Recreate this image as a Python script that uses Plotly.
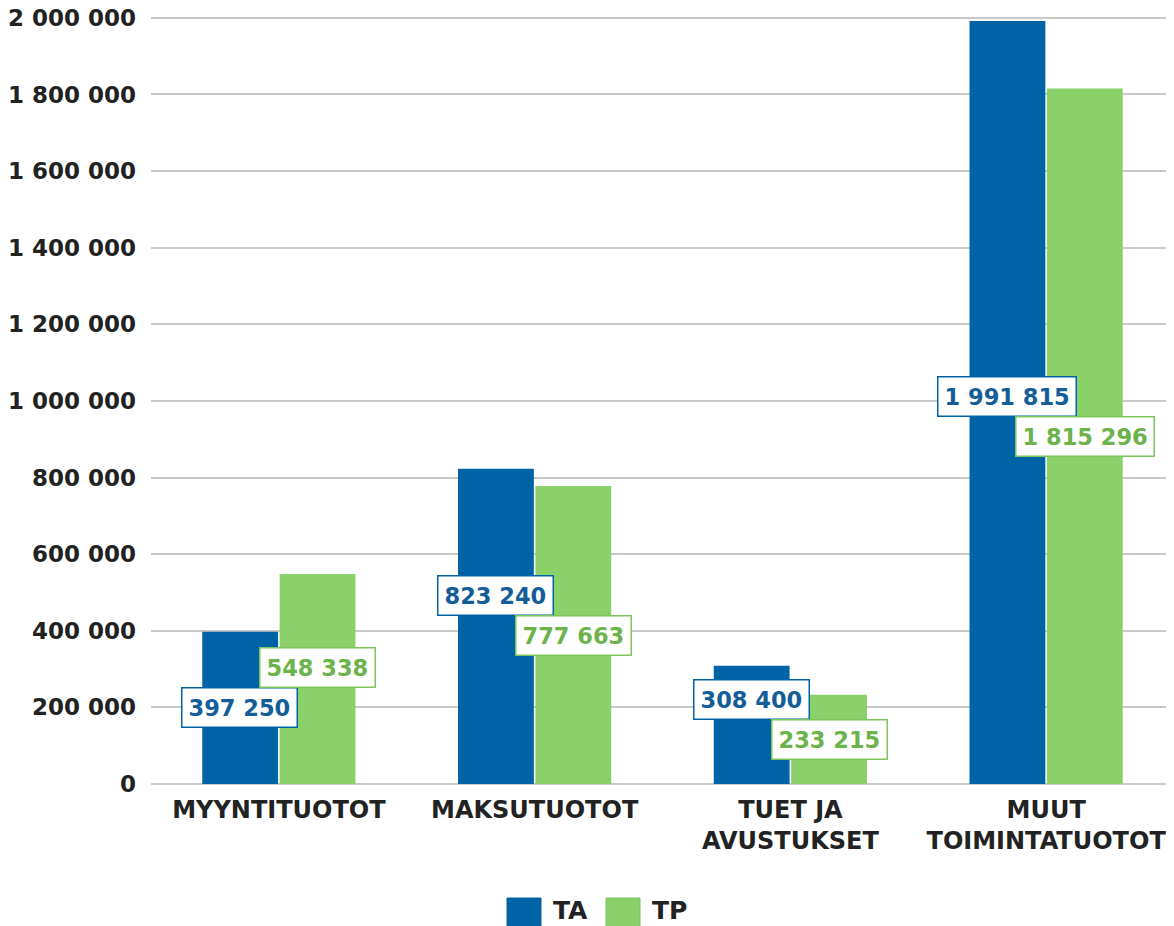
import plotly.graph_objects as go

categories = ["MYYNTITUOTOT", "MAKSUTUOTOT", "TUET JA<br>AVUSTUKSET", "MUUT<br>TOIMINTATUOTOT"]
ta_values = [397250, 823240, 308400, 1991815]
tp_values = [548338, 777663, 233215, 1815296]
tick_vals = [0, 200000, 400000, 600000, 800000, 1000000, 1200000, 1400000, 1600000, 1800000, 2000000]

BLUE = "#0063a6"
GREEN = "#8ad16a"
BLUE_TXT = "#135d98"
GREEN_TXT = "#6bb34a"
FONT = "DejaVu Sans"

# page has an 8px body margin; figure is sized to fit the window
OFF = 8
W, H = 1174 - OFF, 926 - OFF
ML, MR, MB = 151 - OFF, 0, 142
y_grid_top = 2000000
y_top = 2010000  # small headroom so the top gridline stays visible
px_per_unit = 766 / y_grid_top
plot_h = px_per_unit * y_top
MT = H - MB - plot_h
box_h = 40  # label box height in px


def fmt(v):
    return f"{v:,}".replace(",", " ")


fig = go.Figure()
fig.add_trace(go.Bar(name="TA", x=categories, y=ta_values, marker=dict(color=BLUE, line=dict(width=0)),
                     showlegend=False, hoverinfo="skip"))
fig.add_trace(go.Bar(name="TP", x=categories, y=tp_values, marker=dict(color=GREEN, line=dict(width=0)),
                     showlegend=False, hoverinfo="skip"))

bar_offset = 39
for cat, a, b in zip(categories, ta_values, tp_values):
    ya, yb = a / 2, b / 2
    diff_px = abs(ya - yb) * px_per_unit
    push = max(0, box_h - diff_px)
    shift_a = push if ya > yb else 0
    shift_b = push if yb > ya else 0
    for val, yv, sh, xs, col, tcol in [(a, ya, shift_a, -bar_offset, BLUE, BLUE_TXT),
                                       (b, yb, shift_b, bar_offset, "#7cc55e", GREEN_TXT)]:
        fig.add_annotation(x=cat, y=yv, xref="x", yref="y", text=fmt(val), showarrow=False,
                           xshift=xs, yshift=sh, bgcolor="white", bordercolor=col, borderwidth=1.5,
                           borderpad=6, font=dict(family=FONT, size=22.5, color=tcol, weight="bold"))


# custom legend (positions given in reference-image pixels)
def px2x(p):
    return (p - OFF - ML) / (W - ML - MR)


def px2y(p):
    return (H - MB - (p - OFF)) / (H - MT - MB)


for (x0, name, fill, line, tx) in [(507, "TA", BLUE, BLUE, 551), (606, "TP", GREEN, "#7cc55e", 650)]:
    fig.add_shape(type="rect", xref="paper", yref="paper", x0=px2x(x0), x1=px2x(x0 + 34),
                  y0=px2y(898), y1=px2y(932), fillcolor=fill, line=dict(color=line, width=1))
    fig.add_annotation(xref="paper", yref="paper", x=px2x(tx), y=px2y(910), xanchor="left", yanchor="middle",
                       text=name, showarrow=False,
                       font=dict(family=FONT, size=25, color="#222222", weight="bold"))

fig.update_layout(
    width=W, height=H,
    margin=dict(l=ML, r=MR, t=MT, b=MB, autoexpand=False),
    plot_bgcolor="white", paper_bgcolor="white",
    barmode="group", bargap=0.395, bargroupgap=0.02,
    separators=", ",
    font=dict(family=FONT, color="#222222"),
    xaxis=dict(showgrid=False, showline=False, zeroline=False, ticks="",
               tickfont=dict(family=FONT, size=24, color="#222222", weight="bold"),
               ticklabelstandoff=9, ticklabeloverflow="allow"),
    yaxis=dict(range=[0, y_top], tickvals=tick_vals, tickformat=",d",
               showgrid=True, gridcolor="#c9c9c9", gridwidth=1.5, zeroline=True,
               zerolinecolor="#c9c9c9", zerolinewidth=2, showline=False, ticks="",
               tickfont=dict(family=FONT, size=23, color="#222222", weight="bold"),
               ticklabelstandoff=14, ticklabeloverflow="allow"),
)

fig.write_html("out.html")
